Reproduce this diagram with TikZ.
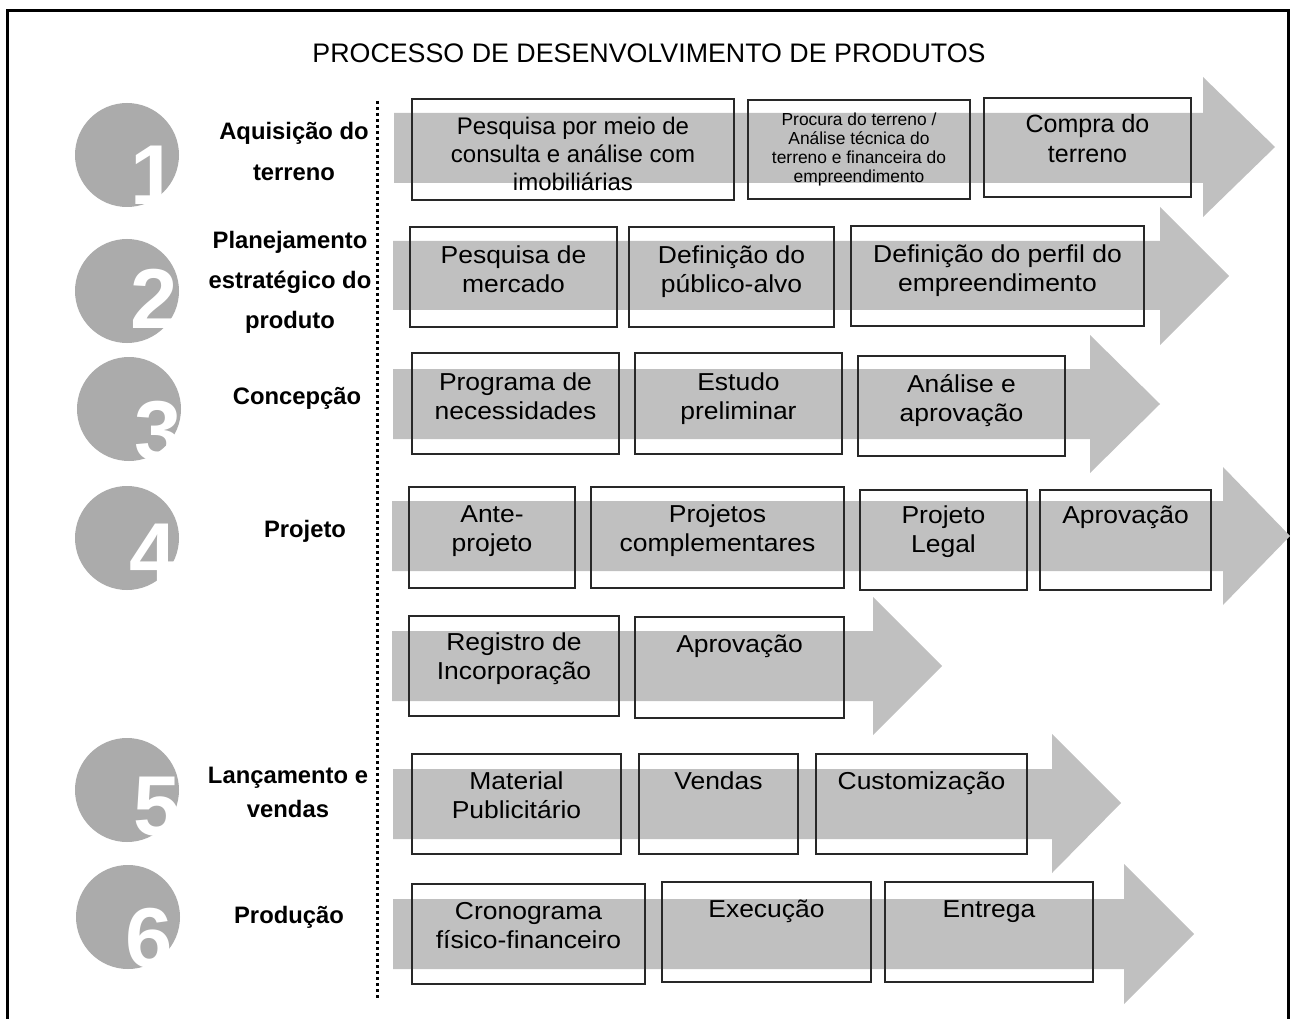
\documentclass[tikz,border=0pt]{standalone}
\usepackage{fontspec}
\setmainfont{Liberation Sans}
\newfontfamily\widefont{Liberation Sans}[FakeStretch=1.08]
\usetikzlibrary{calc}
\definecolor{arrowgray}{RGB}{192,192,192}
\definecolor{circgray}{RGB}{171,171,171}
\definecolor{boxline}{RGB}{40,40,40}
\newcommand\ST{\rule{0pt}{1em}}
\newcommand\bbox[5]{\node[stepbox,minimum width=#4pt,minimum height=#5pt] (#1) at (#2,#3) {};}
\newcommand\barrow[8]{\fill[arrowgray] (#1,#2) -- (#4,#2) -- (#4,#5) -- (#7,#8) -- (#4,#6) -- (#4,#3) -- (#1,#3) -- cycle;}
\begin{document}
\begin{tikzpicture}[x=1pt,y=-1pt,
  stepbox/.style={draw=boxline,line width=1.3pt,inner sep=0pt,fill=none},
  btxt/.style={anchor=north,inner sep=0pt,align=center,font=\fontsize{24.5}{29.5}\widefont},
  lbl/.style={anchor=north,inner sep=0pt,align=center,font=\fontsize{23.8}{40}\selectfont\bfseries},
  circ/.style={circle,fill=circgray,minimum size=104pt,inner sep=0pt},
  digit/.style={anchor=base west,inner sep=0pt,text=white,font=\fontsize{85}{85}\selectfont\bfseries}]
\useasboundingbox (0,0) rectangle (1294,1019);
\fill[white] (0,0) rectangle (1294,1019);
% frame
\draw[line width=3pt] (7.5,1040) -- (7.5,10.5) -- (1288,10.5) -- (1288,1040);
% title
\node[anchor=north,inner sep=0pt,font=\fontsize{26.8}{32}\selectfont] (title) at (649,35.2) {\ST PROCESSO DE DESENVOLVIMENTO DE PRODUTOS};
% circles with digits
\foreach \n/\cx/\cy/\dx/\dy in {1/127/155/130/205, 2/127/291/130/328, 3/129/409/134/460, 4/127/538/129/582, 5/127/790/133/835, 6/128/917/125/967}{
  \node[circ] (c\n) at (\cx,\cy) {};
  \begin{scope}
    \clip (c\n.center) circle (52pt);
    \node[digit] (d\n) at (\dx,\dy) {\n};
  \end{scope}
}
% labels
\node[lbl] (l1) at (294,115.2) {\ST Aquisição do\\[1pt]terreno};
\node[lbl] (l2) at (290,224.2) {\ST Planejamento\\estratégico do\\produto};
\node[lbl] (l3) at (297,380.2) {\ST Concepção};
\node[lbl] (l4) at (305,513.2) {\ST Projeto};
\node[lbl] (l5) at (288,759.2) {\ST Lançamento e\\[-6pt]vendas};
\node[lbl] (l6) at (289,899.2) {\ST Produção};
% dotted separator
\coordinate (dtop) at (377,101);
\coordinate (dbot) at (377,998);
\draw[line width=3pt,dash pattern=on 3pt off 3pt] (dtop) -- (dbot);
% arrows
\barrow{394}{113}{183}{1203}{77}{217}{1275}{147}
\barrow{393}{241}{310}{1160}{207}{345}{1229}{276}
\barrow{393}{369}{439}{1090}{335}{473}{1160}{404}
\barrow{392}{501}{571}{1223}{467}{605}{1290}{536}
\barrow{392}{631}{701}{873}{597}{735}{942}{666}
\barrow{393}{769}{839}{1052}{734}{873}{1121}{803}
\barrow{393}{899}{969}{1124}{864}{1004}{1194}{934}
% boxes
\bbox{b1a}{573}{149.5}{322}{101}
\bbox{b1b}{859}{149.5}{222}{99}
\bbox{b1c}{1087.5}{147.5}{207}{99}
\bbox{b2a}{513.5}{277}{207}{100}
\bbox{b2b}{731.5}{277}{205}{100}
\bbox{b2c}{997.5}{276}{293}{100}
\bbox{b3a}{515.5}{403.5}{207}{101}
\bbox{b3b}{738.5}{403.5}{207}{101}
\bbox{b3c}{961.5}{406}{207}{100}
\bbox{b4a}{492}{537.5}{166}{101}
\bbox{b4b}{717.5}{537.5}{253}{101}
\bbox{b4c}{943.5}{540}{167}{100}
\bbox{b4d}{1125.5}{540}{171}{100}
\bbox{b4e}{514}{666}{210}{100}
\bbox{b4f}{739.5}{667.5}{209}{101}
\bbox{b5a}{516.5}{804}{209}{100}
\bbox{b5b}{718.5}{804}{159}{100}
\bbox{b5c}{921.5}{804}{211}{100}
\bbox{b6a}{528.5}{934}{233}{100}
\bbox{b6b}{766.5}{932}{209}{100}
\bbox{b6c}{989}{932}{208}{100}
% box texts
\node[btxt,font=\fontsize{24}{28}\selectfont] (t1a) at (573,110) {\ST Pesquisa por meio de\\consulta e análise com\\imobiliárias};
\node[btxt,font=\fontsize{17.4}{19}\selectfont] (t1b) at (859,107.6) {\ST Procura do terreno /\\Análise técnica do\\terreno e financeira do\\empreendimento};
\node[btxt,font=\fontsize{25}{30}\selectfont] (t1c) at (1087.5,107) {\ST Compra do\\terreno};
\node[btxt] (t2a) at (513.5,238.5) {\ST Pesquisa de\\mercado};
\node[btxt] (t2b) at (731.5,238.5) {\ST Definição do\\público-alvo};
\node[btxt] (t2c) at (997.5,237.5) {\ST Definição do perfil do\\empreendimento};
\node[btxt] (t3a) at (515.5,365.5) {\ST Programa de\\necessidades};
\node[btxt] (t3b) at (738.5,365.5) {\ST Estudo\\preliminar};
\node[btxt] (t3c) at (961.5,367.5) {\ST Análise e\\aprovação};
\node[btxt] (t4a) at (492,497.5) {\ST Ante-\\projeto};
\node[btxt] (t4b) at (717.5,497.5) {\ST Projetos\\complementares};
\node[btxt] (t4c) at (943.5,498.5) {\ST Projeto\\Legal};
\node[btxt] (t4d) at (1125.5,498.5) {\ST Aprovação};
\node[btxt] (t4e) at (514,625.5) {\ST Registro de\\Incorporação};
\node[btxt] (t4f) at (739.5,627.5) {\ST Aprovação};
\node[btxt] (t5a) at (516.5,764.5) {\ST Material\\Publicitário};
\node[btxt] (t5b) at (718.5,764.5) {\ST Vendas};
\node[btxt] (t5c) at (921.5,764.5) {\ST Customização};
\node[btxt] (t6a) at (528.5,894.5) {\ST Cronograma\\físico-financeiro};
\node[btxt] (t6b) at (766.5,892.5) {\ST Execução};
\node[btxt] (t6c) at (989,892.5) {\ST Entrega};
\end{tikzpicture}
\end{document}
